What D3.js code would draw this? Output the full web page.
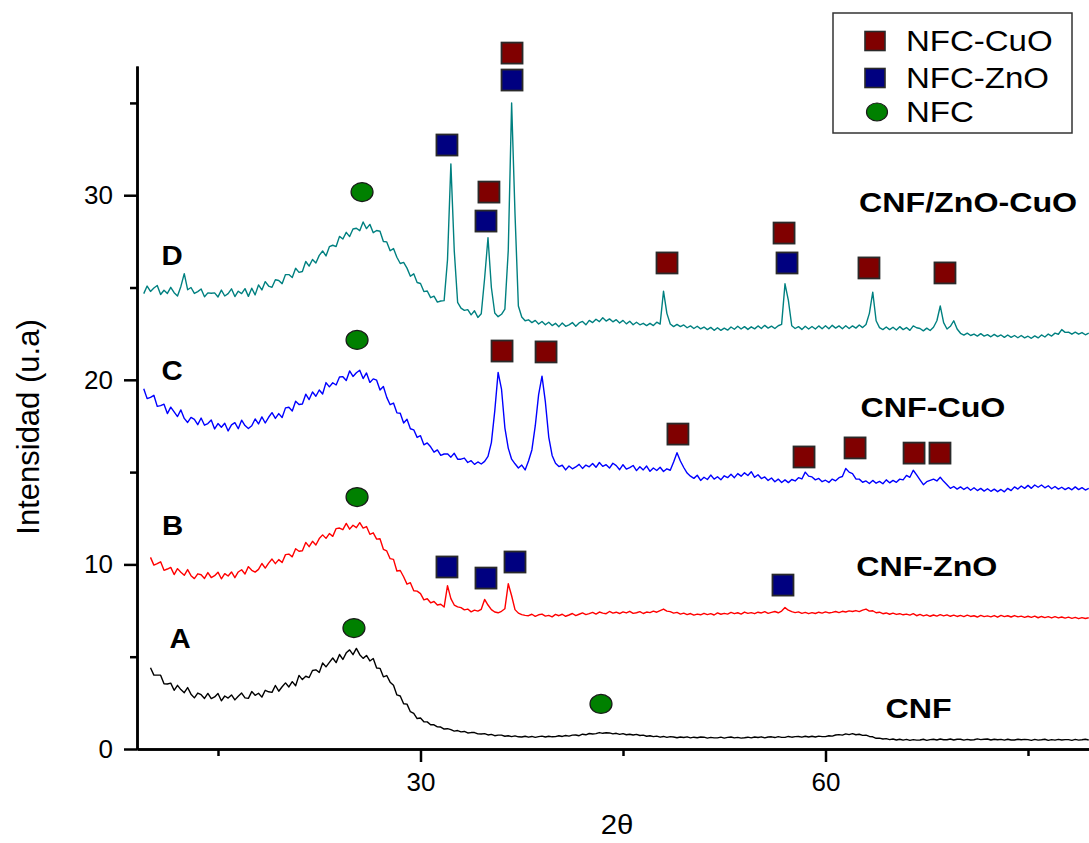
<!DOCTYPE html>
<html><head><meta charset="utf-8">
<script src="https://cdn.jsdelivr.net/npm/d3@7"></script>
<style>body{margin:0;background:#fff}svg{display:block}</style>
</head><body>
<svg id="c" width="1089" height="843"></svg>
<script>
// ---- data (2θ sampled every 0.25°) ----
const stepDeg = 0.25;
const startA = 10.0, startB = 10.0, startC = 9.5, startD = 9.5;

// A: CNF
const seriesA = [
4.40,4.00,4.00,4.00, 3.53,3.52,3.57,3.18, 3.45,3.22,3.05,3.33, 2.97,2.77,3.03,2.94,
2.74,3.01,2.73,2.82, 3.01,2.61,2.87,2.76, 2.93,2.66,2.86,3.03, 2.77,2.74,3.11,2.91,
3.02,2.81,3.18,3.10, 3.07,3.44,3.13,3.37, 3.58,3.36,3.65,3.43, 3.99,3.76,3.94,3.87,
4.25,4.29,4.15,4.66, 4.45,4.69,4.93,4.68, 5.12,4.85,5.21,5.37, 5.11,5.45,5.11,4.91,
5.07,4.77,4.90,4.39, 4.37,3.91,3.98,3.62, 3.45,2.93,2.87,2.45, 2.43,2.02,1.93,1.65,
1.68,1.48,1.47,1.31, 1.31,1.20,1.19,1.08, 1.10,1.05,0.97,1.00, 0.93,0.95,0.87,0.89,
0.89,0.82,0.81,0.83, 0.76,0.79,0.72,0.75, 0.75,0.69,0.72,0.67, 0.71,0.66,0.65,0.69,
0.64,0.68,0.63,0.67, 0.70,0.65,0.69,0.66, 0.67,0.72,0.68,0.73, 0.70,0.75,0.76,0.72,
0.80,0.77,0.84,0.81, 0.83,0.89,0.85,0.88, 0.87,0.82,0.85,0.79, 0.83,0.77,0.80,0.76,
0.79,0.73,0.75,0.69, 0.72,0.67,0.70,0.64, 0.68,0.63,0.67,0.65, 0.61,0.65,0.62,0.66,
0.60,0.64,0.61,0.65, 0.64,0.59,0.63,0.60, 0.60,0.64,0.59,0.63, 0.65,0.60,0.63,0.59,
0.61,0.64,0.60,0.65, 0.62,0.66,0.60,0.65, 0.66,0.62,0.67,0.63, 0.63,0.68,0.64,0.67,
0.68,0.64,0.69,0.65, 0.69,0.65,0.70,0.67, 0.67,0.72,0.70,0.76, 0.78,0.75,0.82,0.78,
0.83,0.77,0.80,0.74, 0.75,0.68,0.66,0.58, 0.59,0.54,0.56,0.51, 0.54,0.49,0.53,0.48,
0.52,0.47,0.51,0.48, 0.49,0.53,0.47,0.51, 0.53,0.49,0.54,0.50, 0.50,0.54,0.49,0.53,
0.53,0.48,0.52,0.49, 0.50,0.55,0.51,0.53, 0.54,0.49,0.53,0.50, 0.52,0.48,0.53,0.49,
0.49,0.53,0.50,0.52, 0.51,0.47,0.52,0.48, 0.50,0.53,0.47,0.51, 0.48,0.52,0.49,0.51,
0.51,0.47,0.52,0.48, 0.50,0.53,0.49];

// B: CNF-ZnO
const seriesB = [
10.38,9.96,10.04,10.14, 9.68,9.75,9.84,9.45, 9.77,9.57,9.41,9.72, 9.39,9.23,9.49,9.44,
9.24,9.56,9.29,9.39, 9.58,9.22,9.50,9.37, 9.59,9.28,9.59,9.71, 9.48,9.88,9.68,9.58,
9.73,10.05,9.80,10.07, 10.29,10.04,10.26,10.10, 10.53,10.56,10.41,10.85, 10.71,10.74,11.19,10.96,
11.25,11.05,11.40,11.60, 11.41,11.67,11.52,11.94, 11.97,11.88,12.22,11.91, 12.12,11.99,12.26,11.97,
12.05,11.63,11.71,11.37, 11.39,10.82,10.73,10.31, 10.27,9.64,9.67,9.33, 8.93,9.01,8.57,8.55,
8.42,8.08,8.14,7.92, 7.99,7.80,7.84,7.69, 8.85,8.15,7.80,7.70, 7.66,7.54,7.58,7.43,
7.52,7.47,7.57,8.10, 7.80,7.55,7.42,7.38, 7.46,7.60,8.95,8.30, 7.55,7.36,7.28,7.24,
7.22,7.30,7.19,7.27, 7.31,7.20,7.24,7.16, 7.29,7.22,7.30,7.19, 7.26,7.34,7.23,7.30,
7.37,7.28,7.33,7.40, 7.31,7.42,7.36,7.33, 7.45,7.36,7.41,7.34, 7.43,7.37,7.46,7.35,
7.38,7.44,7.34,7.42, 7.39,7.47,7.41,7.50, 7.58,7.47,7.44,7.36, 7.40,7.31,7.36,7.28,
7.34,7.25,7.31,7.27, 7.35,7.28,7.33,7.26, 7.37,7.30,7.35,7.31, 7.40,7.33,7.38,7.31,
7.42,7.35,7.39,7.33, 7.41,7.37,7.44,7.35, 7.40,7.45,7.38,7.47, 7.66,7.52,7.44,7.39,
7.43,7.35,7.40,7.33, 7.39,7.34,7.41,7.36, 7.43,7.37,7.40,7.45, 7.39,7.46,7.42,7.48,
7.45,7.50,7.44,7.52, 7.58,7.47,7.49,7.38, 7.41,7.33,7.37,7.30, 7.36,7.29,7.33,7.27,
7.31,7.25,7.33,7.22, 7.29,7.21,7.27,7.19, 7.26,7.20,7.28,7.21, 7.27,7.19,7.25,7.18,
7.24,7.17,7.25,7.18, 7.22,7.15,7.24,7.17, 7.21,7.16,7.23,7.14, 7.24,7.17,7.22,7.15,
7.23,7.16,7.20,7.13, 7.19,7.13,7.20,7.11, 7.18,7.12,7.17,7.10, 7.17,7.10,7.15,7.09,
7.14,7.08,7.13,7.06, 7.12,7.07,7.11];

// C: CNF-CuO
const seriesC = [
19.52,18.98,
19.05,19.16,18.56,18.60, 18.68,18.17,18.52,18.26, 18.01,18.37,17.91,17.69, 17.96,17.86,17.57,17.93,
17.54,17.63,17.82,17.34, 17.63,17.43,17.65,17.23, 17.56,17.68,17.35,17.81, 17.52,17.36,17.51,17.88,
17.61,17.99,17.66,17.97, 18.22,17.91,18.17,17.96, 18.48,18.51,18.31,18.84, 18.66,18.69,19.22,18.93,
19.34,19.11,19.45,19.23, 19.85,19.62,19.84,19.72, 20.15,20.17,19.96,20.48, 20.18,20.38,20.52,20.07,
20.37,19.86,20.05,19.98, 19.45,19.64,19.05,18.65, 18.74,18.21,18.19,17.66, 17.86,17.35,17.29,16.88,
16.97,16.48,16.58,16.37, 16.08,16.20,15.91,15.98, 15.99,15.81,16.02,15.70, 15.70,15.76,15.52,15.62,
15.42,15.55,15.44,15.58, 15.85,16.60,18.30,20.40, 19.50,17.40,16.30,15.70, 15.45,15.22,15.38,15.12,
15.60,16.20,17.50,19.20, 20.20,18.80,16.90,15.90, 15.48,15.30,15.37,15.12, 15.33,15.18,15.28,15.42,
15.20,15.38,15.29,15.47, 15.26,15.52,15.31,15.40, 15.22,15.48,15.35,15.13, 15.40,15.16,15.24,15.36,
15.08,15.29,15.12,15.33, 15.04,15.22,15.09,15.26, 15.03,15.18,15.10,15.55, 16.05,15.60,15.25,14.95,
14.78,14.66,14.83,14.55, 14.72,14.60,14.84,14.62, 14.75,14.58,14.80,14.70, 14.88,14.70,14.92,14.78,
14.96,14.82,15.02,14.72, 14.86,14.65,14.74,14.55, 14.68,14.48,14.62,14.44, 14.58,14.43,14.60,14.52,
14.70,14.63,15.00,14.78, 14.74,14.58,14.66,14.48, 14.56,14.44,14.62,14.53, 14.70,14.76,15.20,15.00,
14.92,14.63,14.62,14.45, 14.52,14.38,14.55,14.40, 14.50,14.37,14.58,14.42, 14.55,14.45,14.62,14.58,
14.82,14.72,15.10,14.85, 14.58,14.32,14.48,14.55, 14.62,14.52,14.72,14.50, 14.32,14.12,14.22,14.08,
14.20,14.06,14.18,14.02, 14.15,14.00,14.12,13.97, 14.10,13.96,14.08,13.94, 14.06,13.93,14.12,14.00,
14.20,14.08,14.25,14.12, 14.28,14.12,14.30,14.18, 14.30,14.15,14.26,14.10, 14.22,14.08,14.18,14.05,
14.16,14.04,14.20,14.05, 14.16,14.03,14.12];

// D: CNF/ZnO-CuO
const seriesD = [
24.67,25.08,
24.79,24.97,25.11,24.62, 24.85,24.68,25.01,24.72, 24.54,25.06,25.75,24.88, 25.00,24.68,24.78,24.92,
24.50,24.71,24.69,24.71, 24.49,24.86,24.54,24.67, 24.93,24.51,24.80,24.67, 24.94,24.52,24.96,24.60,
25.14,24.87,25.32,25.08, 25.01,25.42,25.38,25.21, 25.70,25.70,25.54,26.04, 25.82,25.87,26.41,26.16,
26.52,26.33,26.74,26.98, 26.71,27.21,27.29,27.22, 27.77,27.63,27.99,27.76, 28.17,28.21,28.08,28.55,
28.19,28.42,27.97,28.09, 28.05,27.49,27.47,26.99, 27.11,26.64,26.30,26.36, 26.05,25.61,25.74,25.27,
25.22,24.78,24.81,24.45, 24.53,24.21,24.27,24.29, 26.50,31.70,27.00,24.20, 23.88,23.76,23.80,23.52,
23.74,23.38,23.58,25.50, 27.70,25.00,23.62,23.42, 23.55,23.83,27.00,35.00, 29.00,24.00,23.40,23.20,
23.25,23.10,23.22,23.02, 23.16,22.98,23.12,22.94, 23.06,22.88,23.08,22.90, 22.98,23.10,22.90,23.08,
23.16,22.98,23.22,23.10, 23.28,23.15,23.36,23.18, 23.30,23.14,23.26,23.08, 23.22,23.03,23.17,22.98,
23.12,22.98,23.06,22.94, 23.06,22.94,23.12,23.02, 24.80,23.60,23.02,22.88, 23.00,22.88,22.97,22.82,
22.92,22.78,22.90,22.76, 22.86,22.72,22.84,22.68, 22.82,22.68,22.80,22.69, 22.86,22.74,22.90,22.75,
22.88,22.73,22.87,22.76, 22.92,22.78,22.95,22.80, 22.91,22.78,22.93,23.00, 25.20,24.30,22.93,22.78,
22.88,22.73,22.90,22.75, 22.89,22.75,22.92,22.77, 22.93,22.77,22.95,22.80, 22.92,22.77,22.93,22.78,
22.92,22.80,22.97,22.83, 23.00,23.60,24.75,23.20, 22.83,22.72,22.86,22.72, 22.85,22.70,22.88,22.72,
22.83,22.68,22.92,22.82, 22.78,22.65,22.80,22.67, 22.85,23.20,24.00,23.10, 22.75,22.90,23.20,22.75,
22.52,22.42,22.53,22.40, 22.48,22.37,22.50,22.37, 22.45,22.33,22.46,22.34, 22.43,22.30,22.43,22.30,
22.40,22.28,22.40,22.27, 22.36,22.25,22.38,22.27, 22.43,22.32,22.48,22.37, 22.53,22.47,22.72,22.57,
22.58,22.47,22.58,22.47, 22.56,22.44,22.53];

// phase markers [2θ, intensity]
const cuoMarkers = [[36.78,37.70],[35.07,30.17],[48.26,26.33],[56.93,27.95],[63.22,26.06],[68.85,25.79],
  [36.04,21.56],[39.30,21.51],[49.07,17.06],[58.41,15.82],[62.19,16.31],[66.56,16.03],[68.48,16.03]];
const znoMarkers = [[36.78,36.24],[31.96,32.72],[34.85,28.60],[57.15,26.33],
  [31.96,9.86],[34.85,9.26],[37.00,10.13],[56.85,8.88]];
const nfcMarkers = [[25.67,30.17],[25.30,22.16],[25.30,13.65],[25.07,6.55],[43.37,2.44]];

const sampleNames = ["CNF","CNF-ZnO","CNF-CuO","CNF/ZnO-CuO"];
const sampleLetters = ["A","B","C","D"];
const legendNames = ["NFC-CuO","NFC-ZnO","NFC"];
const xMajorTicks = [30,60], xMinorTicks = [15,45,75];
const yMajorTicks = [0,10,20,30], yMinorTicks = [5,15,25,35];

// ---- layout ----
const svg = d3.select("#c");
const FONT = "'Liberation Sans', Arial, Helvetica, sans-serif";
const x = d3.scaleLinear().domain([9, 80]).range([137, 137 + 71 * 13.5]);
const y = d3.scaleLinear().domain([0, 37]).range([749, 66]);

const seriesList = [
  {vals: seriesA, start: startA, color: "#000000"},
  {vals: seriesB, start: startB, color: "#ff0000"},
  {vals: seriesC, start: startC, color: "#0000ff"},
  {vals: seriesD, start: startD, color: "#008080"}
];
const line = d3.line();
seriesList.forEach(s => {
  const pts = s.vals.map((v, i) => [x(s.start + i * stepDeg), y(v)]);
  svg.append("path").attr("d", line(pts)).attr("fill", "none")
    .attr("stroke", s.color).attr("stroke-width", 1.4).attr("stroke-linejoin", "round");
});

// axes
function styleAxis(g) {
  g.selectAll("path,line").attr("stroke", "#000").attr("stroke-width", 2.5);
  g.selectAll("text").attr("font-family", FONT).attr("font-size", 26).attr("fill", "#000");
}
svg.append("g").attr("transform", "translate(137,0)")
  .call(d3.axisLeft(y).tickValues(yMinorTicks).tickSize(7).tickFormat("").tickSizeOuter(0))
  .call(styleAxis);
svg.append("g").attr("transform", "translate(137,0)")
  .call(d3.axisLeft(y).tickValues(yMajorTicks).tickSize(13).tickPadding(11).tickSizeOuter(0).tickFormat(d3.format("d")))
  .call(styleAxis);
svg.append("g").attr("transform", "translate(0,749)")
  .call(d3.axisBottom(x).tickValues(xMinorTicks).tickSize(7).tickFormat("").tickSizeOuter(0))
  .call(styleAxis);
svg.append("g").attr("transform", "translate(0,749)")
  .call(d3.axisBottom(x).tickValues(xMajorTicks).tickSize(13).tickPadding(11).tickSizeOuter(0).tickFormat(d3.format("d")))
  .call(styleAxis);

function label(px, py, s, size, weight, anchor, sx, rot) {
  return svg.append("text")
    .attr("transform", `translate(${px},${py})` + (rot ? ` rotate(${rot})` : "") + ` scale(${sx},1)`)
    .attr("text-anchor", anchor).attr("font-family", FONT)
    .attr("font-size", size).attr("font-weight", weight).attr("fill", "#000").text(s);
}

// axis titles
label(617, 834, "2θ", 28, "normal", "middle", 1.05);
label(39, 427, "Intensidad (u.a)", 31, "normal", "middle", 1.0, -90);

// sample labels (data coordinates)
const letterPos = [[12.19,5.47],[11.63,11.59],[11.60,19.99],[11.60,26.20]];
const namePos = [[66.90,1.68],[67.50,9.37],[67.96,17.98],[70.56,29.09]];
sampleLetters.forEach((s, i) => label(x(letterPos[i][0]), y(letterPos[i][1]), s, 28, "bold", "middle", 1.05));
sampleNames.forEach((s, i) => label(x(namePos[i][0]), y(namePos[i][1]), s, 28, "bold", "middle", 1.15));

// markers
const SQ = 21;
function squares(data, fill) {
  svg.append("g").selectAll("rect").data(data).join("rect")
    .attr("x", d => x(d[0]) - SQ / 2).attr("y", d => y(d[1]) - SQ / 2)
    .attr("width", SQ).attr("height", SQ)
    .attr("fill", fill).attr("stroke", "#2a2a2a").attr("stroke-width", 1.8);
}
squares(cuoMarkers, "#800000");
squares(znoMarkers, "#000080");
svg.append("g").selectAll("ellipse").data(nfcMarkers).join("ellipse")
  .attr("cx", d => x(d[0])).attr("cy", d => y(d[1])).attr("rx", 11).attr("ry", 9.5)
  .attr("fill", "#008000").attr("stroke", "#1a1a1a").attr("stroke-width", 1.2);

// legend
const lg = svg.append("g");
lg.append("rect").attr("x", 833).attr("y", 13).attr("width", 239).attr("height", 120)
  .attr("fill", "#fff").attr("stroke", "#333").attr("stroke-width", 1.5);
const legendFills = ["#800000", "#000080", "#008000"];
const legendRows = [41, 78, 112];
legendNames.forEach((n, i) => {
  if (i < 2) {
    lg.append("rect").attr("x", 865).attr("y", legendRows[i] - 9.5).attr("width", 20).attr("height", 19)
      .attr("fill", legendFills[i]).attr("stroke", "#2a2a2a").attr("stroke-width", 1.6);
  } else {
    lg.append("ellipse").attr("cx", 877).attr("cy", legendRows[i]).attr("rx", 10.5).attr("ry", 9)
      .attr("fill", legendFills[i]).attr("stroke", "#1a1a1a").attr("stroke-width", 1.2);
  }
  label(906, legendRows[i] + 10, n, 30, "normal", "start", 1.1);
});
</script>
</body></html>
